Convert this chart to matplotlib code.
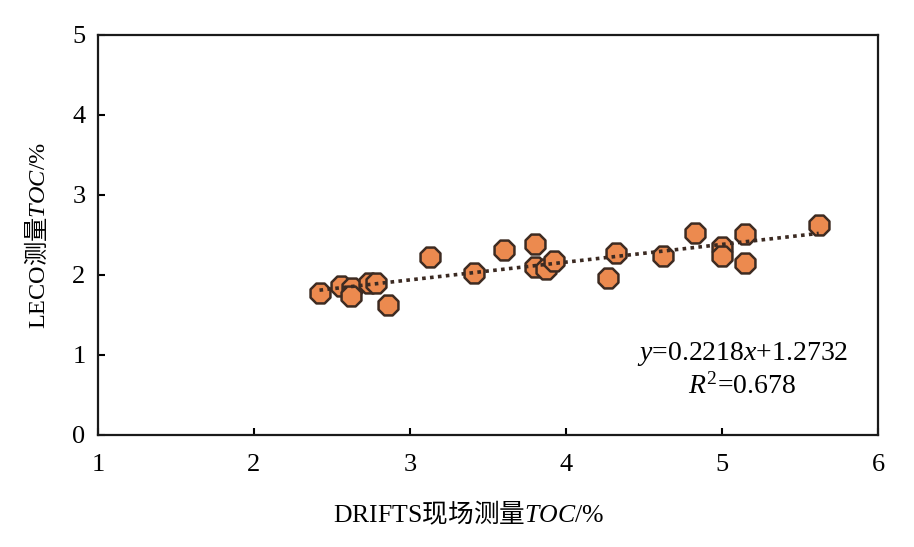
import numpy as np
import matplotlib.pyplot as plt

plt.rcParams['font.family'] = ['Liberation Serif', 'Noto Sans CJK SC']
plt.rcParams['mathtext.fontset'] = 'custom'
plt.rcParams['mathtext.it'] = 'Liberation Serif:italic'
plt.rcParams['mathtext.rm'] = 'Liberation Serif'
plt.rcParams['mathtext.cal'] = 'Noto Sans CJK SC'   # used for the Chinese words

# DRIFTS field TOC vs LECO TOC
drifts = [2.42, 2.56, 2.63, 2.62, 2.74, 2.78, 2.86, 3.13, 3.41, 3.60, 3.80,
          3.80, 3.87, 3.92, 4.32, 4.27, 4.62, 4.83, 5.00, 5.00, 5.15, 5.15, 5.62]
leco = [1.78, 1.86, 1.84, 1.74, 1.90, 1.90, 1.62, 2.22, 2.02, 2.31, 2.39,
        2.10, 2.07, 2.18, 2.27, 1.96, 2.24, 2.52, 2.35, 2.24, 2.51, 2.15, 2.63]
slope, intercept = 0.2218, 1.2732

fig = plt.figure(figsize=(9.14, 5.47), dpi=100)
ax = fig.add_axes([0.1072, 0.2048, 0.8534, 0.7313])

xf = np.array([min(drifts), max(drifts)])
ax.plot(xf, slope * xf + intercept, linestyle=(0, (1, 1.2)), color='#3b2a22',
        linewidth=2.6, zorder=3)
ax.scatter(drifts, leco, s=240, marker='8', facecolor='#ec8a4f',
           edgecolor='#3d2b22', linewidth=1.8, zorder=2)

ax.set_xlim(1, 6)
ax.set_ylim(0, 5)
ax.set_xticks(range(1, 7))
ax.set_yticks(range(0, 6))
ax.tick_params(direction='in', length=5, width=1.5, labelsize=19)
ax.tick_params(axis='x', pad=14)
ax.tick_params(axis='y', pad=9)
for s in ax.spines.values():
    s.set_linewidth(1.6)
    s.set_color('#1a1a1a')

ax.set_xlabel(r'DRIFTS$\mathcal{现场测量}$$TOC$/%', fontsize=18.5)
ax.xaxis.set_label_coords(0.475, -0.16)
ax.set_ylabel(r'LECO$\mathcal{测量}$$TOC$/%', fontsize=17.5)
ax.yaxis.set_label_coords(-0.062, 0.5)

ax.text(5.13, 0.81, '$y$=0.2218$x$+1.2732\n$R^2$=0.678', fontsize=20,
        ha='center', va='center', linespacing=1.25)

fig.savefig('out.png', dpi=100)
